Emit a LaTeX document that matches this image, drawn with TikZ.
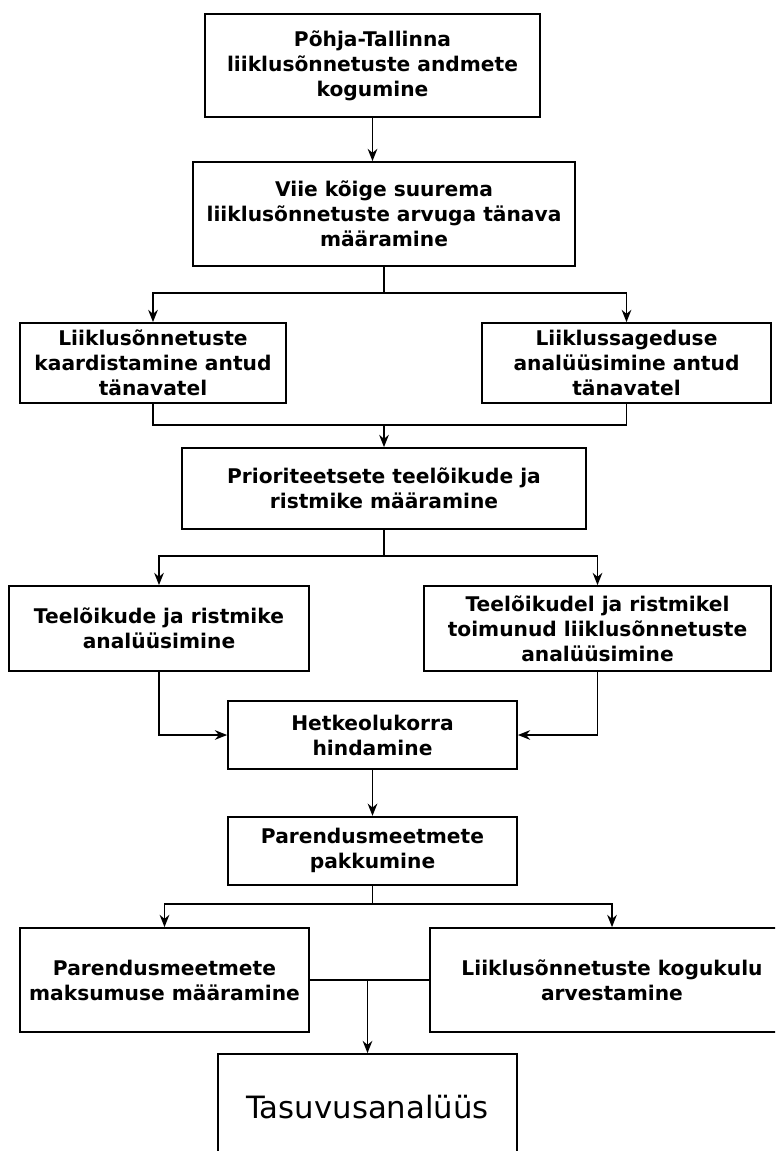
\documentclass[tikz,border=0pt]{standalone}
\usepackage{fontspec}
\setmainfont{DejaVu Sans}
\usepackage{tikz}
\usetikzlibrary{positioning,arrows.meta,calc}

\tikzset{
    stepbox/.style={draw, rectangle, line width=1pt, align=center, inner sep=0pt,
        font=\bfseries\fontsize{11.5}{14.2}\selectfont},
    flow/.style={->, line width=0.8pt, >={Stealth[length=7pt,width=5.5pt]}},
    link/.style={line width=0.8pt}
}

\begin{document}
\begin{tikzpicture}[x=0.02cm, y=-0.02cm]
    \useasboundingbox (0,0) rectangle (775,1151);
    \clip (0,0) rectangle (775,1151);

    \node[stepbox, minimum width=6.7cm, minimum height=2.06cm] (kogumine) at (372.5,65.5)
        {Põhja-Tallinna\\ liiklusõnnetuste andmete\\ kogumine};

    \node[stepbox, minimum width=7.64cm, minimum height=2.08cm] (tanavad) at (384,214)
        {Viie kõige suurema\\ liiklusõnnetuste arvuga tänava\\ määramine};

    \node[stepbox, minimum width=5.32cm, minimum height=1.6cm] (kaart) at (153,363)
        {Liiklusõnnetuste\\ kaardistamine antud\\ tänavatel};

    \node[stepbox, minimum width=5.78cm, minimum height=1.6cm] (sagedus) at (626.5,363)
        {Liiklussageduse\\ analüüsimine antud\\ tänavatel};

    \node[stepbox, minimum width=8.08cm, minimum height=1.62cm] (prioriteet) at (384,488.5)
        {Prioriteetsete teelõikude ja\\ ristmike määramine};

    \node[stepbox, minimum width=6.0cm, minimum height=1.7cm] (loigud) at (159,628.5)
        {Teelõikude ja ristmike\\ analüüsimine};

    \node[stepbox, minimum width=6.94cm, minimum height=1.7cm] (onnetused) at (597.5,628.5)
        {Teelõikudel ja ristmikel\\ toimunud liiklusõnnetuste\\ analüüsimine};

    \node[stepbox, minimum width=5.78cm, minimum height=1.36cm] (hetk) at (372.5,735)
        {Hetkeolukorra\\ hindamine};

    \node[stepbox, minimum width=5.78cm, minimum height=1.36cm, below=0.92cm of hetk] (meetmed)
        {Parendusmeetmete\\ pakkumine};

    \node[stepbox, minimum width=5.78cm, minimum height=2.08cm] (maksumus) at (164.5,980)
        {Parendusmeetmete\\ maksumuse määramine};

    \node[stepbox, minimum width=7.28cm, minimum height=2.08cm] (kogukulu) at (612,980)
        {Liiklusõnnetuste kogukulu\\ arvestamine};

    \node[stepbox, minimum width=5.98cm, minimum height=2.12cm,
        font=\fontsize{17.5}{21}\selectfont] (tasuvus) at (367.5,1107)
        {Tasuvusanalüüs};

    % harud ja liitumised
    \coordinate (hargA) at (384,293);
    \coordinate (liitA) at (384,425);
    \coordinate (hargB) at (384,556);
    \coordinate (hargC) at (372.5,904);
    \coordinate (liitC) at (tasuvus.north |- maksumus.east);

    \draw[flow] (kogumine.south) -- (kogumine.south |- tanavad.north);
    \draw[link] (tanavad.south) -- (hargA);
    \draw[flow] (hargA) -| (kaart.north);
    \draw[flow] (hargA) -| (sagedus.north);

    \draw[link] (kaart.south) |- (liitA);
    \draw[link] (sagedus.south) |- (liitA);
    \draw[flow] (liitA) -- (liitA |- prioriteet.north);

    \draw[link] (prioriteet.south) -- (hargB);
    \draw[flow] (hargB) -| (loigud.north);
    \draw[flow] (hargB) -| (onnetused.north);

    \draw[flow] (loigud.south) |- (hetk.west);
    \draw[flow] (onnetused.south) |- (hetk.east);
    \draw[flow] (hetk) -- (meetmed);

    \draw[link] (meetmed.south) -- (hargC);
    \draw[flow] (hargC) -| (maksumus.north);
    \draw[flow] (hargC) -| (kogukulu.north);

    \draw[link] (maksumus.east) -- (kogukulu.west);
    \draw[flow] (liitC) -- (tasuvus.north);
\end{tikzpicture}
\end{document}
